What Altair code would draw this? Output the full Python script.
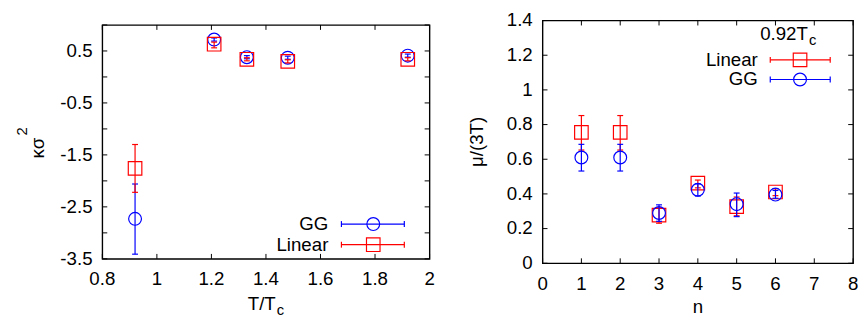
import altair as alt
import pandas as pd

FONT = "Liberation Sans"
RED = "#ff0000"
BLUE = "#0000ff"

# ---------------- data: left panel (kappa sigma^2 vs T/Tc) ----------------
t_vals = [0.92, 1.21, 1.33, 1.48, 1.92]
gg_k = [-2.73, 0.72, 0.38, 0.37, 0.41]
gg_k_lo = [-3.41, 0.69, 0.35, 0.34, 0.38]
gg_k_hi = [-2.06, 0.75, 0.41, 0.40, 0.44]
lin_k = [-1.76, 0.63, 0.34, 0.30, 0.34]
lin_k_lo = [-2.22, 0.56, 0.31, 0.27, 0.31]
lin_k_hi = [-1.30, 0.67, 0.37, 0.33, 0.37]

# ---------------- data: right panel (mu/(3T) vs n) ----------------
n_vals = [1, 2, 3, 4, 5, 6]
lin_mu = [0.755, 0.755, 0.278, 0.462, 0.327, 0.411]
lin_mu_lo = [0.653, 0.653, 0.231, 0.435, 0.274, 0.390]
lin_mu_hi = [0.852, 0.852, 0.320, 0.480, 0.382, 0.430]
gg_mu = [0.61, 0.61, 0.29, 0.424, 0.341, 0.396]
gg_mu_lo = [0.532, 0.532, 0.242, 0.388, 0.269, 0.375]
gg_mu_hi = [0.686, 0.686, 0.337, 0.458, 0.405, 0.420]

# tick values and tick labels
left_xticks = [0.8, 1.0, 1.2, 1.4, 1.6, 1.8, 2.0]
left_xlabels = ["0.8", "1", "1.2", "1.4", "1.6", "1.8", "2"]
left_yticks = [-3.5, -3.0, -2.5, -2.0, -1.5, -1.0, -0.5, 0.0, 0.5, 1.0]
left_ylabel_vals = [0.5, -0.5, -1.5, -2.5, -3.5]
left_ylabels = ["0.5", "-0.5", "-1.5", "-2.5", "-3.5"]
right_xticks = [0, 1, 2, 3, 4, 5, 6, 7, 8]
right_xlabels = ["0", "1", "2", "3", "4", "5", "6", "7", "8"]
right_yticks = [0.0, 0.2, 0.4, 0.6, 0.8, 1.0, 1.2, 1.4]
right_ylabels = ["0", "0.2", "0.4", "0.6", "0.8", "1", "1.2", "1.4"]

W1, H1 = 333, 238
W2, H2 = 316, 247
TL = 5  # inward tick length
FS = 19


def series(xs, ys, lo, hi, color, shape, size, xsc, ysc):
    df = pd.DataFrame({"x": xs, "y": ys, "lo": lo, "hi": hi})
    base = alt.Chart(df)
    X = alt.X("x:Q", scale=xsc, axis=None)
    bar = base.mark_rule(color=color, strokeWidth=1.2).encode(
        x=X, y=alt.Y("lo:Q", scale=ysc, axis=None), y2="hi:Q")
    cap_lo = base.mark_rule(color=color, strokeWidth=1.2, xOffset=-3, x2Offset=3).encode(
        x=X, x2="x:Q", y=alt.Y("lo:Q", scale=ysc, axis=None))
    cap_hi = base.mark_rule(color=color, strokeWidth=1.2, xOffset=-3, x2Offset=3).encode(
        x=X, x2="x:Q", y=alt.Y("hi:Q", scale=ysc, axis=None))
    pts = base.mark_point(shape=shape, size=size, color=color, strokeWidth=1.2,
                          filled=False, opacity=1).encode(
        x=X, y=alt.Y("y:Q", scale=ysc, axis=None))
    return [bar, cap_lo, cap_hi, pts]


def frame(xt, xlab_vals, xlabs, yt, ylab_vals, ylabs, xsc, ysc, W, H):
    dx = pd.DataFrame({"v": xt})
    dy = pd.DataFrame({"v": yt})
    bx = alt.Chart(dx).mark_rule(color="black", strokeWidth=1)
    by = alt.Chart(dy).mark_rule(color="black", strokeWidth=1)
    lx = pd.DataFrame({"v": xlab_vals, "lab": xlabs})
    ly = pd.DataFrame({"v": ylab_vals, "lab": ylabs})
    return [
        bx.encode(x=alt.X("v:Q", scale=xsc, axis=None), y=alt.value(H), y2=alt.value(H - TL)),
        bx.encode(x=alt.X("v:Q", scale=xsc, axis=None), y=alt.value(0), y2=alt.value(TL)),
        by.encode(y=alt.Y("v:Q", scale=ysc, axis=None), x=alt.value(0), x2=alt.value(TL)),
        by.encode(y=alt.Y("v:Q", scale=ysc, axis=None), x=alt.value(W - TL), x2=alt.value(W)),
        alt.Chart(lx).mark_text(font=FONT, fontSize=FS, align="center", baseline="alphabetic",
                                color="black").encode(
            x=alt.X("v:Q", scale=xsc, axis=None), y=alt.value(H + 27), text="lab:N"),
        alt.Chart(ly).mark_text(font=FONT, fontSize=FS, align="right", baseline="middle",
                                color="black").encode(
            y=alt.Y("v:Q", scale=ysc, axis=None), x=alt.value(-10), text="lab:N"),
    ]


def txt(s, x, y, size=FS, align="center", baseline="alphabetic", angle=0):
    d = pd.DataFrame({"t": [s]})
    return alt.Chart(d).mark_text(font=FONT, fontSize=size, align=align, baseline=baseline,
                                  angle=angle, color="black").encode(
        x=alt.value(x), y=alt.value(y), text="t:N")


def legend_entry(label, color, shape, size, y, x_text, x0, x1, xm):
    d = pd.DataFrame({"t": [label]})
    c = alt.Chart(d)
    return [
        c.mark_text(font=FONT, fontSize=FS, align="right", baseline="middle", color="black").encode(
            x=alt.value(x_text), y=alt.value(y), text="t:N"),
        c.mark_rule(color=color, strokeWidth=1.2).encode(x=alt.value(x0), x2=alt.value(x1), y=alt.value(y)),
        c.mark_rule(color=color, strokeWidth=1.2).encode(x=alt.value(x0), y=alt.value(y - 3), y2=alt.value(y + 3)),
        c.mark_rule(color=color, strokeWidth=1.2).encode(x=alt.value(x1), y=alt.value(y - 3), y2=alt.value(y + 3)),
        c.mark_point(shape=shape, size=size, color=color, strokeWidth=1.2, filled=False, opacity=1).encode(
            x=alt.value(xm), y=alt.value(y)),
    ]


# ---------------- left panel ----------------
xs1 = alt.Scale(domain=[0.8, 2.0], nice=False, zero=False)
ys1 = alt.Scale(domain=[-3.5, 1.0], nice=False, zero=False)
left_layers = frame(left_xticks, left_xticks, left_xlabels,
                    left_yticks, left_ylabel_vals, left_ylabels, xs1, ys1, W1, H1)
left_layers += series(t_vals, gg_k, gg_k_lo, gg_k_hi, BLUE, "circle", 170, xs1, ys1)
left_layers += series(t_vals, lin_k, lin_k_lo, lin_k_hi, RED, "square", 190, xs1, ys1)
left_layers += legend_entry("GG", BLUE, "circle", 170, 202.6, 230, 243.3, 307.3, 275.7)
left_layers += legend_entry("Linear", RED, "square", 190, 223.6, 230, 243.3, 307.3, 275.7)
left_layers += [
    txt("T/T", 176.5, 290.5, align="right"),
    txt("c", 177.5, 295.5, size=15, align="left"),
    txt("κσ", -59.5, 125.3, angle=270),
    txt("2", -76.5, 108.3, size=15, angle=270),
]
left = alt.layer(*left_layers).properties(width=W1, height=H1)

# ---------------- right panel ----------------
xs2 = alt.Scale(domain=[0, 8], nice=False, zero=False)
ys2 = alt.Scale(domain=[0, 1.4], nice=False, zero=False)
right_layers = frame(right_xticks, right_xticks, right_xlabels,
                     right_yticks, right_yticks, right_ylabels, xs2, ys2, W2, H2)
right_layers += series(n_vals, lin_mu, lin_mu_lo, lin_mu_hi, RED, "square", 190, xs2, ys2)
right_layers += series(n_vals, gg_mu, gg_mu_lo, gg_mu_hi, BLUE, "circle", 170, xs2, ys2)
right_layers += legend_entry("Linear", RED, "square", 190, 40.0, 219, 231.7, 292.7, 262.0)
right_layers += legend_entry("GG", BLUE, "circle", 170, 60.0, 219, 231.7, 292.7, 262.0)
right_layers += [
    txt("0.92T", 270, 19.5, align="right"),
    txt("c", 271, 25, size=15, align="left"),
    txt("n", W2 / 2, 297.5),
    txt("μ/(3T)", -61, H2 / 2, angle=270),
]
right = alt.layer(*right_layers).properties(width=W2, height=H2)

chart = alt.hconcat(left, right, spacing=115, bounds="flush", center=True).properties(
    padding={"left": 6, "top": 0, "right": 0, "bottom": 0}
).configure_view(stroke="black", strokeWidth=1.4)

chart.save("out.html", embed_options={"renderer": "svg", "actions": False})
